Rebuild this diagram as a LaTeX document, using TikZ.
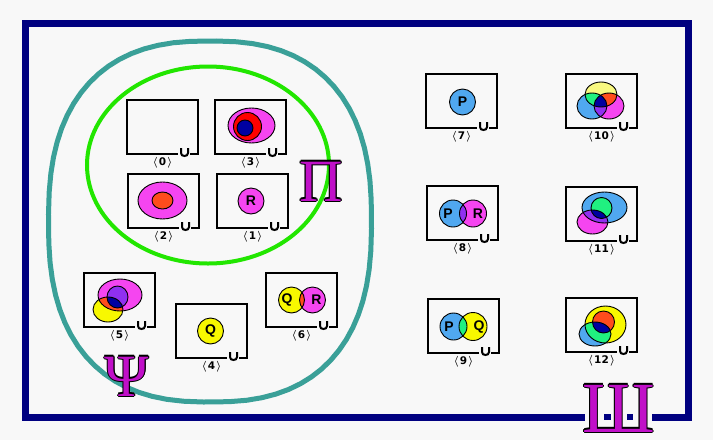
\documentclass[tikz,border=0pt]{standalone}
\usepackage{fontspec}
\newfontfamily\lblfont{DejaVu Sans}
\newfontfamily\letfont{Liberation Sans}
\newfontfamily\grkfont{Liberation Serif}
\definecolor{bgc}{HTML}{F8F8F8}
\definecolor{navyc}{HTML}{000080}
\definecolor{tealc}{HTML}{3AA098}
\definecolor{grnc}{HTML}{22E600}
\definecolor{magc}{HTML}{F545F0}
\definecolor{redc}{HTML}{FF0000}
\definecolor{orngc}{HTML}{FF4C1C}
\definecolor{dbluec}{HTML}{0000A0}
\definecolor{pbluec}{HTML}{50A8F0}
\definecolor{ylwc}{HTML}{F8F800}
\definecolor{ylw2c}{HTML}{F8F880}
\definecolor{sgrnc}{HTML}{20F080}
\definecolor{purpc}{HTML}{9030F0}
\definecolor{psymc}{HTML}{C010C8}
\tikzset{
  boxline/.style={draw=black, line width=2.4pt},
  uline/.style={draw=black, line width=2pt},
  vline/.style={draw=black, line width=0.9pt},
  lbl/.style={font=\lblfont\bfseries\fontsize{10.5}{11}\selectfont, inner sep=0pt},
  letr/.style={font=\letfont\bfseries\fontsize{14}{14}\selectfont, inner sep=0pt},
}
\newcommand{\ubox}[4]{%
  \draw[boxline] (#1+51,#2+54) -- (#1,#2+54) -- (#1,#2) -- (#1+71,#2) -- (#1+71,#2+54) -- (#1+63,#2+54);
  \draw[uline] (#1+54,#2+48) -- (#1+54,#2+53) .. controls (#1+54,#2+57) and (#1+61,#2+57) .. (#1+61,#2+53) -- (#1+61,#2+48);
  \node[lbl] (#4) at (#1+35.5,#2+63) {{\boldmath$\langle$}\kern1.2pt#3\kern1.2pt{\boldmath$\rangle$}};
}
\newcommand{\outltext}[4]{%
  \foreach \dx/\dy in {1.1/0,-1.1/0,0/1.1,0/-1.1,0.8/0.8,-0.8/0.8,0.8/-0.8,-0.8/-0.8}
    \node[anchor=base, text=black, font=#3, inner sep=0pt] at ([shift={(\dx,\dy)}]#2) {#4};
  \node[anchor=base, text=psymc, font=#3, inner sep=0pt] (#1) at (#2) {#4};
}
\begin{document}
\begin{tikzpicture}[x=1pt,y=-1pt]
\useasboundingbox (0,0) rectangle (713,440);
\fill[bgc] (0,0) rectangle (713,440);
% frame
\draw[navyc, line width=7pt] (25.5,23.5) rectangle (688.5,417);
% teal blob
\draw[tealc, line width=5pt] plot[domain=1:356, samples=72]
  ({210+161.5*sign(cos(\x))*abs(cos(\x))^0.8}, {221.5+180.5*sign(sin(\x))*abs(sin(\x))^0.8}) -- cycle;
% green ellipse
\draw[grnc, line width=4pt] (208,165) ellipse[x radius=121, y radius=98.5];

% boxes
\ubox{127}{100}{0}{l0}
\ubox{215}{100}{3}{l3}
\ubox{128}{174}{2}{l2}
\ubox{217}{174}{1}{l1}
\ubox{84}{273}{5}{l5}
\ubox{176}{304}{4}{l4}
\ubox{266}{273}{6}{l6}
\ubox{426}{74}{7}{l7}
\ubox{566}{74}{10}{l10}
\ubox{427}{186}{8}{l8}
\ubox{566}{187}{11}{l11}
\ubox{428}{299}{9}{l9}
\ubox{566}{298}{12}{l12}

% box 3
\fill[magc] (251.5,125.5) ellipse[x radius=23.5, y radius=17.5];
\fill[redc] (247.5,126.5) circle[radius=14];
\fill[dbluec] (245,128) circle[radius=8];
\draw[vline] (251.5,125.5) ellipse[x radius=23.5, y radius=17.5];
\draw[vline] (247.5,126.5) circle[radius=14];
\draw[vline] (245,128) circle[radius=8];

% box 2
\filldraw[vline, fill=magc] (162.5,200.5) ellipse[x radius=24.5, y radius=18.5];
\filldraw[vline, fill=orngc] (162.5,200.5) ellipse[x radius=10.5, y radius=8.5];

% box 1
\filldraw[vline, fill=magc] (251,201) circle[radius=13];
\node[letr] (r1) at (251,201) {R};

% box 5
\fill[magc] (120,295) ellipse[x radius=22, y radius=16];
\fill[ylwc] (108,309.5) ellipse[x radius=15, y radius=12.5];
\fill[purpc] (117.5,297) ellipse[x radius=10.5, y radius=11];
\begin{scope}
  \clip (108,309.5) ellipse[x radius=15, y radius=12.5];
  \fill[orngc] (120,295) ellipse[x radius=22, y radius=16];
  \fill[dbluec] (117.5,297) ellipse[x radius=10.5, y radius=11];
\end{scope}
\draw[vline] (120,295) ellipse[x radius=22, y radius=16];
\draw[vline] (108,309.5) ellipse[x radius=15, y radius=12.5];
\draw[vline] (117.5,297) ellipse[x radius=10.5, y radius=11];

% box 4
\filldraw[vline, fill=ylwc] (210.5,331) circle[radius=13];
\node[letr] (q4) at (210.5,331) {Q};

% box 6
\fill[ylwc] (291.5,300) circle[radius=13];
\fill[magc] (312.5,300) circle[radius=13];
\begin{scope}
  \clip (291.5,300) circle[radius=13];
  \fill[orngc] (312.5,300) circle[radius=13];
\end{scope}
\draw[vline] (291.5,300) circle[radius=13];
\draw[vline] (312.5,300) circle[radius=13];
\node[letr] (q6) at (287,300) {Q};
\node[letr] (r6) at (316.5,300) {R};

% box 7
\filldraw[vline, fill=pbluec] (462.5,102) circle[radius=13];
\node[letr] (p7) at (462.5,102) {P};

% box 8
\fill[pbluec] (453,213.5) circle[radius=13.5];
\fill[magc] (473,213.5) circle[radius=13.5];
\begin{scope}
  \clip (453,213.5) circle[radius=13.5];
  \fill[purpc] (473,213.5) circle[radius=13.5];
\end{scope}
\draw[vline] (453,213.5) circle[radius=13.5];
\draw[vline] (473,213.5) circle[radius=13.5];
\node[letr] (p8) at (448,213.5) {P};
\node[letr] (r8) at (478,213.5) {R};

% box 9
\fill[pbluec] (453.5,326.5) circle[radius=13.5];
\fill[ylwc] (473,326.5) circle[radius=14];
\begin{scope}
  \clip (453.5,326.5) circle[radius=13.5];
  \fill[sgrnc] (473,326.5) circle[radius=14];
\end{scope}
\draw[vline] (453.5,326.5) circle[radius=13.5];
\draw[vline] (473,326.5) circle[radius=14];
\node[letr] (p9) at (449,326.5) {P};
\node[letr] (q9) at (479,326.5) {Q};

% box 10
\fill[ylw2c] (601,94.5) ellipse[x radius=16, y radius=12.5];
\fill[pbluec] (592,106) ellipse[x radius=15, y radius=13];
\fill[magc] (609,106) ellipse[x radius=15, y radius=13];
\begin{scope}
  \clip (609,106) ellipse[x radius=15, y radius=13];
  \fill[orngc] (601,94.5) ellipse[x radius=16, y radius=12.5];
\end{scope}
\begin{scope}
  \clip (592,106) ellipse[x radius=15, y radius=13];
  \fill[sgrnc] (601,94.5) ellipse[x radius=16, y radius=12.5];
  \fill[purpc] (609,106) ellipse[x radius=15, y radius=13];
  \clip (609,106) ellipse[x radius=15, y radius=13];
  \fill[dbluec] (601,94.5) ellipse[x radius=16, y radius=12.5];
\end{scope}
\draw[vline] (601,94.5) ellipse[x radius=16, y radius=12.5];
\draw[vline] (592,106) ellipse[x radius=15, y radius=13];
\draw[vline] (609,106) ellipse[x radius=15, y radius=13];

% box 11
\fill[pbluec] (604.5,207.5) ellipse[x radius=22.5, y radius=15.5];
\fill[magc] (592.5,222) ellipse[x radius=15.5, y radius=12];
\begin{scope}
  \clip (604.5,207.5) ellipse[x radius=22.5, y radius=15.5];
  \fill[purpc] (592.5,222) ellipse[x radius=15.5, y radius=12];
  \fill[sgrnc] (601.5,208) circle[radius=10.5];
  \clip (601.5,208) circle[radius=10.5];
  \fill[dbluec] (592.5,222) ellipse[x radius=15.5, y radius=12];
\end{scope}
\draw[vline] (604.5,207.5) ellipse[x radius=22.5, y radius=15.5];
\draw[vline] (601.5,208) circle[radius=10.5];
\draw[vline] (592.5,222) ellipse[x radius=15.5, y radius=12];

% box 12
\fill[ylwc] (605.5,324.5) ellipse[x radius=20.5, y radius=18.5];
\fill[orngc] (603.5,322) circle[radius=11];
\fill[pbluec] (595,334) ellipse[x radius=16, y radius=12];
\begin{scope}
  \clip (595,334) ellipse[x radius=16, y radius=12];
  \fill[sgrnc] (605.5,324.5) ellipse[x radius=20.5, y radius=18.5];
  \clip (603.5,322) circle[radius=11];
  \fill[dbluec] (595,334) ellipse[x radius=16, y radius=12];
\end{scope}
\draw[vline] (605.5,324.5) ellipse[x radius=20.5, y radius=18.5];
\draw[vline] (603.5,322) circle[radius=11];
\draw[vline] (595,334) ellipse[x radius=16, y radius=12];

% Greek / Cyrillic symbols
\outltext{pi}{321,201}{\grkfont\fontsize{60}{60}\selectfont}{Π}
\outltext{psi}{127,396}{\grkfont\fontsize{60}{60}\selectfont}{Ψ}
\fill[bgc] (585,412) rectangle (652,422);
\fill[navyc] (604,414) rectangle (611,419.5);
\fill[navyc] (627,414) rectangle (633,419.5);
\outltext{sha}{618.5,432}{\grkfont\fontsize{72}{72}\selectfont}{Ш}
\end{tikzpicture}
\end{document}
